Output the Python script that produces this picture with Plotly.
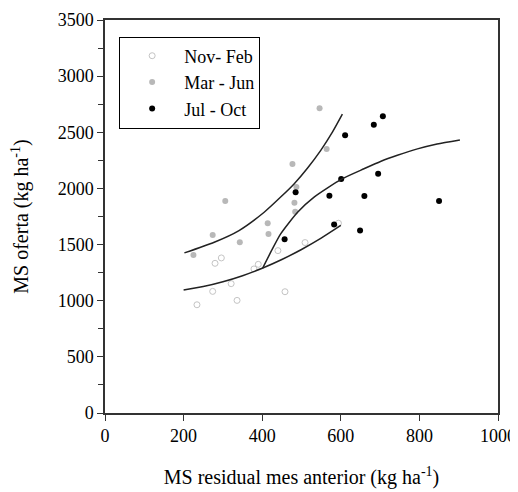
import plotly.graph_objects as go

# Data
nov_feb_x = [234, 274, 280, 296, 321, 336, 379, 390, 440, 458, 509, 594]
nov_feb_y = [964, 1083, 1333, 1381, 1152, 1003, 1283, 1324, 1446, 1080, 1518, 1690]

mar_jun_x = [225, 274, 306, 343, 414, 416, 477, 482, 484, 487, 546, 564]
mar_jun_y = [1408, 1586, 1887, 1521, 1690, 1595, 2217, 1872, 1792, 2012, 2714, 2351]

jul_oct_x = [457, 485, 571, 583, 601, 611, 649, 660, 684, 695, 707, 850]
jul_oct_y = [1548, 1967, 1935, 1679, 2083, 2473, 1625, 1932, 2568, 2131, 2643, 1887]

# Fitted curves
fit_nf_x = [200, 250, 300, 350, 400, 450, 500, 550, 600]
fit_nf_y = [1095, 1126, 1169, 1223, 1289, 1367, 1456, 1557, 1670]
fit_mj_x = [202, 278, 341, 405, 447, 481, 515, 549, 579, 604]
fit_mj_y = [1426, 1521, 1625, 1788, 1923, 2040, 2180, 2339, 2503, 2661]
fit_jo_x = [401, 426, 447, 490, 532, 602, 659, 701, 744, 795, 845, 903]
fit_jo_y = [1289, 1461, 1595, 1788, 1923, 2083, 2175, 2240, 2295, 2352, 2396, 2432]

FONT = "Liberation Serif, Times New Roman, serif"

fig = go.Figure()
fig.add_trace(go.Scatter(x=nov_feb_x, y=nov_feb_y, mode="markers", name="Nov- Feb",
                         marker=dict(symbol="circle-open", size=6, color="#c4c4c4", line=dict(width=1))))
fig.add_trace(go.Scatter(x=mar_jun_x, y=mar_jun_y, mode="markers", name="Mar - Jun",
                         marker=dict(symbol="circle", size=6, color="#b8b8b8")))
fig.add_trace(go.Scatter(x=jul_oct_x, y=jul_oct_y, mode="markers", name="Jul - Oct",
                         marker=dict(symbol="circle", size=6, color="black")))
for fx, fy in [(fit_nf_x, fit_nf_y), (fit_mj_x, fit_mj_y), (fit_jo_x, fit_jo_y)]:
    fig.add_trace(go.Scatter(x=fx, y=fy, mode="lines", showlegend=False,
                             line=dict(color="#222222", width=1.5, shape="spline", smoothing=0.6),
                             hoverinfo="skip"))

fig.update_layout(
    width=518, height=492,
    margin=dict(l=97, r=28, t=12, b=87),
    paper_bgcolor="white", plot_bgcolor="white",
    font=dict(family=FONT, size=18, color="black"),
    showlegend=True,
    legend=dict(x=0.036, y=0.958, xanchor="left", yanchor="top",
                bordercolor="black", borderwidth=1, bgcolor="white",
                font=dict(family=FONT, size=18), itemwidth=54,
                entrywidth=140, entrywidthmode="pixels"),
    xaxis=dict(range=[0, 1000], tickvals=[0, 200, 400, 600, 800, 1000],
               showgrid=False, zeroline=False, showline=True, linecolor="#333333", linewidth=1.5,
               mirror=True, ticks="outside", ticklen=6, tickcolor="#333333", tickwidth=1,
               tickfont=dict(family=FONT, size=18), automargin=False,
               title=dict(text="MS residual mes anterior (kg ha<sup>-1</sup>)", standoff=25,
                          font=dict(family=FONT, size=20))),
    yaxis=dict(range=[0, 3500], tickvals=[0, 500, 1000, 1500, 2000, 2500, 3000, 3500],
               showgrid=False, zeroline=False, showline=True, linecolor="#333333", linewidth=1.5,
               mirror=True, ticks="outside", ticklen=6, tickcolor="#333333", tickwidth=1,
               minor=dict(dtick=250, ticks="outside", ticklen=5, tickcolor="#333333", showgrid=False),
               tickfont=dict(family=FONT, size=18), automargin=False,
               title=dict(text="MS oferta (kg ha<sup>-1</sup>)", standoff=25,
                          font=dict(family=FONT, size=20))),
)

fig.write_html("out.html")
